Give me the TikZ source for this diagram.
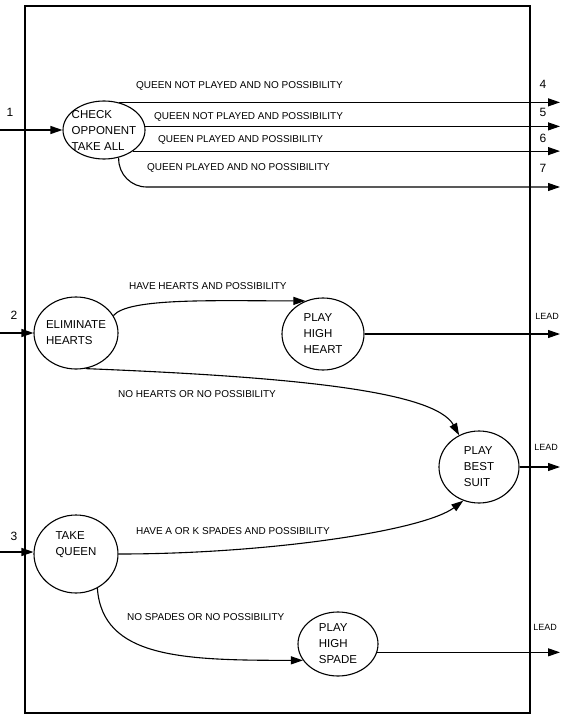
\documentclass[tikz,border=0pt]{standalone}
\usepackage{fontspec}
\setmainfont{Liberation Sans}
\usetikzlibrary{arrows.meta}
\usetikzlibrary{shapes.geometric}

\begin{document}
\begin{tikzpicture}[x=1pt,y=-1pt,
  state/.style={draw,ellipse,line width=1.1pt,inner sep=-15pt,align=left,font=\fontsize{11.5}{16}\selectfont},
  arr/.style={line width=1.1pt,-{Triangle[length=12pt,width=8pt]}},
  cond/.style={anchor=west,inner sep=0pt,font=\fontsize{10}{12}\selectfont},
  num/.style={inner sep=0pt,font=\fontsize{12}{14}\selectfont},
  lead/.style={inner sep=0pt,font=\fontsize{9}{11}\selectfont}]
\useasboundingbox (0,0) rectangle (563,717);
\draw[line width=1.2pt] (25,6) rectangle (530,713);
\node[state,minimum width=82pt,minimum height=58pt] (chk) at (104,130) {CHECK\\OPPONENT\\TAKE ALL};
\node[state,minimum width=84pt,minimum height=72pt] (elim) at (76,333) {ELIMINATE\\HEARTS};
\node[state,minimum width=82pt,minimum height=72pt] (phh) at (323,334) {PLAY\\HIGH\\HEART};
\node[state,minimum width=80pt,minimum height=72pt] (pbs) at (479,467) {PLAY\\BEST\\SUIT};
\node[state,minimum width=84pt,minimum height=78pt] (tkq) at (76,554) {TAKE\\QUEEN\\[4pt]\mbox{}};
\node[state,minimum width=80pt,minimum height=64pt] (pss) at (338,644) {PLAY\\HIGH\\SPADE};
\coordinate (in1) at (0,130);
\coordinate (in2) at (0,333);
\coordinate (in3) at (0,552);
\coordinate (o4) at (560,102);
\coordinate (o5) at (560,126);
\coordinate (o6) at (560,152);
\coordinate (o7) at (560,187);
\coordinate (oh) at (560,334);
\coordinate (ob) at (560,467);
\coordinate (os) at (560,652);
\node[num] (n1) at (10,112) {1};
\node[num] (n2) at (14,315) {2};
\node[num] (n3) at (14,536) {3};
\node[num] (n4) at (543,84) {4};
\node[num] (n5) at (543,112) {5};
\node[num] (n6) at (543,138) {6};
\node[num] (n7) at (543,168) {7};
\node[lead] (l1) at (547,316) {LEAD};
\node[lead] (l2) at (546,447) {LEAD};
\node[lead] (l3) at (545,627) {LEAD};
\node[cond] (c4) at (136,86) {QUEEN NOT PLAYED AND NO POSSIBILITY};
\node[cond] (c5) at (154,117) {QUEEN NOT PLAYED AND POSSIBILITY};
\node[cond] (c6) at (158,140) {QUEEN PLAYED AND POSSIBILITY};
\node[cond] (c7) at (147,168) {QUEEN PLAYED AND NO POSSIBILITY};
\node[cond] (c8) at (129,286) {HAVE HEARTS AND POSSIBILITY};
\node[cond] (c9) at (118,394) {NO HEARTS OR NO POSSIBILITY};
\node[cond] (c10) at (136,531) {HAVE A OR K SPADES AND POSSIBILITY};
\node[cond] (c11) at (127,617) {NO SPADES OR NO POSSIBILITY};
\draw[arr] (in1) -- (chk);
\draw[arr] (in2) -- (elim);
\draw[arr] (in3) -- (in3 -| tkq.west);
\draw[arr] (chk.62) -- (chk.62 -| o4);
\draw[arr] (chk.5) -- (chk.5 -| o5);
\draw[arr] (chk.-36) -- (chk.-36 -| o6);
\draw[arr,rounded corners=28pt] (chk.-62) |- (o7);
\draw[arr] (elim.25) .. controls +(15,-18) and +(-90,0) .. (phh.118);
\draw[arr] (elim.-75) .. controls +(200,8) and +(-25,-45) .. (pbs.122);
\draw[arr] (tkq.east) .. controls +(150,0) and +(-40,30) .. (pbs.-115);
\draw[arr] (tkq.-58) .. controls +(5,70) and +(-120,0) .. (pss.-155);
\draw[arr] (phh) -- (oh);
\draw[arr] (pbs) -- (ob);
\draw[arr] (pss.-12) -- (pss.-12 -| os);
\end{tikzpicture}
\end{document}
